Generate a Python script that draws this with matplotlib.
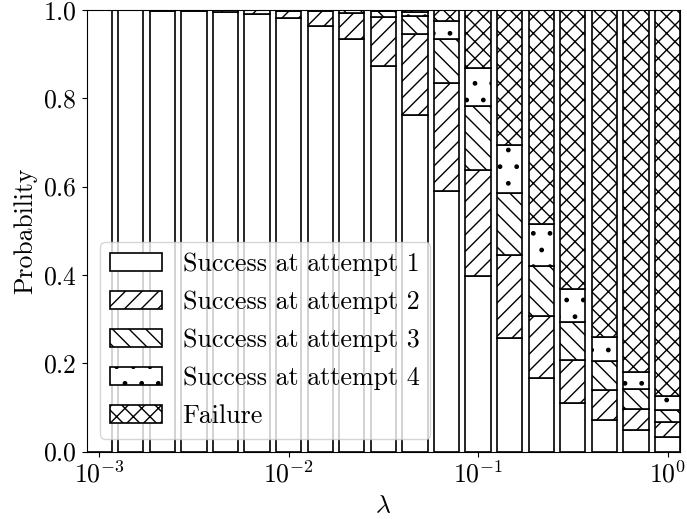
import numpy as np
import matplotlib
matplotlib.use("Agg")
import matplotlib.pyplot as plt

plt.rcParams['font.family'] = 'serif'
plt.rcParams['font.serif'] = ['cmr10']
plt.rcParams['mathtext.fontset'] = 'cm'
plt.rcParams['axes.formatter.use_mathtext'] = True
plt.rcParams['axes.unicode_minus'] = False
plt.rcParams['hatch.linewidth'] = 1.0

# lambda values (log-spaced, 19 bars from 1e-3 to 1e0)
lambdas = np.logspace(-3, 0, 19)

success_1 = [1.000, 0.999, 0.998, 0.997, 0.995, 0.990, 0.981, 0.964, 0.934, 0.873,
             0.762, 0.591, 0.398, 0.257, 0.166, 0.109, 0.072, 0.049, 0.032]
success_2 = [0.000, 0.001, 0.002, 0.003, 0.005, 0.009, 0.017, 0.033, 0.060, 0.110,
             0.183, 0.243, 0.240, 0.188, 0.140, 0.099, 0.068, 0.048, 0.034]
success_3 = [0.000, 0.000, 0.000, 0.000, 0.000, 0.001, 0.002, 0.002, 0.005, 0.014,
             0.041, 0.100, 0.145, 0.141, 0.114, 0.085, 0.065, 0.044, 0.028]
success_4 = [0.000, 0.000, 0.000, 0.000, 0.000, 0.000, 0.000, 0.001, 0.001, 0.002,
             0.009, 0.040, 0.085, 0.107, 0.096, 0.075, 0.055, 0.040, 0.032]
failure   = [0.000, 0.000, 0.000, 0.000, 0.000, 0.000, 0.000, 0.000, 0.000, 0.001,
             0.005, 0.026, 0.132, 0.307, 0.484, 0.632, 0.740, 0.819, 0.874]

series = [success_1, success_2, success_3, success_4, failure]
labels = ['Success at attempt 1', 'Success at attempt 2', 'Success at attempt 3',
          'Success at attempt 4', 'Failure']
hatches = ['', '//', '\\\\', '.', 'xx']

fig = plt.figure(figsize=(6.87, 5.19), dpi=100)
ax = fig.add_axes([0.126, 0.130, 0.864, 0.851])

half = 10 ** (0.8 / 6 / 2)
lefts = lambdas / half
rights = lambdas * half
widths = rights - lefts

bottom = np.zeros(len(lambdas))
for vals, lab, h in zip(series, labels, hatches):
    vals = np.array(vals)
    ax.bar(lefts, vals, width=widths, bottom=bottom, align='edge',
           facecolor='white', edgecolor='black', linewidth=1.2, hatch=h, label=lab)
    bottom += vals

ax.set_xscale('log')
ax.set_xlim(lefts[0], rights[-1])
ax.set_ylim(0, 1)
ax.minorticks_off()
ax.tick_params(labelsize=18.5)
ax.set_xlabel(r'$\lambda$', fontsize=18.5)
ax.set_ylabel('Probability', fontsize=18.5)
ax.legend(loc='lower left', fontsize=18.7, labelspacing=0.55)

fig.savefig('out.png', dpi=100)
